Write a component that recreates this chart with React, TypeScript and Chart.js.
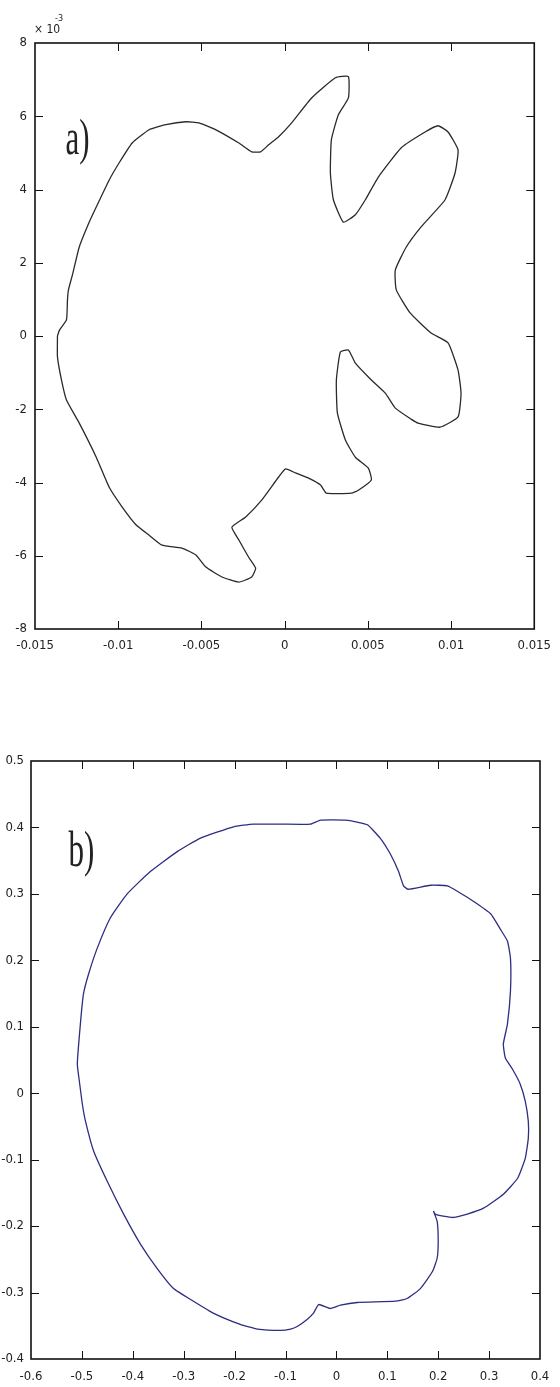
import React, { useEffect, useRef } from 'react';
import { Chart, registerables } from 'chart.js';

Chart.register(...registerables);

// ---------- Panel a) : shape, values in units of 10^-3 ----------
const aXmilli = [
  -13.65, -13.53, -13.11, -13.05, -12.99, -12.75, -12.34, -11.74, -11.32, -10.54,
  -9.94, -9.16, -8.14, -7.13, -5.93, -5.15, -4.13, -2.75, -1.98, -1.44,
  -0.96, -0.36, 0.42, 1.62, 3.05, 3.83, 3.83, 3.23, 2.81, 2.75,
  2.93, 3.53, 4.25, 4.85, 5.63, 7.01, 8.44, 9.22, 9.82, 10.42,
  10.24, 9.64, 8.2, 7.31, 6.65, 6.71, 7.54, 8.8, 9.82, 10.42,
  10.6, 10.42, 9.34, 8.02, 7.6, 6.65, 6.05, 5.21, 4.25, 3.83,
  3.35, 3.11, 3.17, 3.65, 4.25, 5.03, 5.21, 4.43, 4.01, 2.51,
  2.16, 1.44, 0.66, 0.06, -0.36, -1.38, -2.34, -3.17, -2.75, -2.16,
  -1.74, -1.98, -2.75, -3.77, -4.73, -5.33, -6.17, -7.37, -8.14, -8.92,
  -9.76, -10.54, -11.32, -12.34, -13.11, -13.41, -13.65, -13.65,
];
const aYmilli = [
  0, 0.16, 0.44, 0.98, 1.26, 1.67, 2.43, 3.11, 3.52, 4.26,
  4.73, 5.27, 5.63, 5.77, 5.85, 5.82, 5.63, 5.27, 5.03, 5.03,
  5.22, 5.44, 5.82, 6.5, 7.05, 7.08, 6.5, 6.04, 5.36, 4.45,
  3.72, 3.11, 3.31, 3.72, 4.34, 5.14, 5.57, 5.74, 5.57, 5.08,
  4.45, 3.72, 2.98, 2.43, 1.8, 1.26, 0.63, 0.08, -0.19, -0.93,
  -1.56, -2.21, -2.49, -2.38, -2.27, -1.97, -1.56, -1.2, -0.74, -0.38,
  -0.44, -1.2, -2.1, -2.84, -3.31, -3.61, -3.93, -4.21, -4.29, -4.29,
  -4.07, -3.88, -3.74, -3.63, -3.85, -4.48, -4.94, -5.22, -5.57, -6.04,
  -6.34, -6.58, -6.72, -6.58, -6.31, -5.98, -5.79, -5.71, -5.44, -5.16,
  -4.67, -4.13, -3.31, -2.38, -1.75, -1.2, -0.57, 0,
];
const aXTicks = [-0.015, -0.01, -0.005, 0, 0.005, 0.01, 0.015];
const aXTickLabels = ['-0.015', '-0.01', '-0.005', '0', '0.005', '0.01', '0.015'];
const aYTicks = [-8, -6, -4, -2, 0, 2, 4, 6, 8];
const aYTickLabels = ['-8', '-6', '-4', '-2', '0', '2', '4', '6', '8'];

// ---------- Panel b) ----------
const bX = [
  -0.505, -0.509, -0.503, -0.497, -0.487, -0.47, -0.444, -0.411, -0.365, -0.312,
  -0.267, -0.202, -0.163, -0.11, -0.051, -0.031, 0.018, 0.041, 0.061, 0.086,
  0.106, 0.122, 0.132, 0.141, 0.185, 0.218, 0.244, 0.269, 0.303, 0.322,
  0.336, 0.342, 0.342, 0.336, 0.328, 0.332, 0.346, 0.361, 0.371, 0.377,
  0.377, 0.371, 0.356, 0.328, 0.289, 0.257, 0.23, 0.21, 0.194, 0.191,
  0.198, 0.2, 0.198, 0.189, 0.165, 0.139, 0.116, 0.041, 0.008, -0.012,
  -0.035, -0.045, -0.057, -0.077, -0.09, -0.11, -0.155, -0.189, -0.242, -0.281,
  -0.32, -0.352, -0.385, -0.418, -0.45, -0.477, -0.493, -0.499, -0.505,
];
const bY = [
  0.018, 0.044, 0.104, 0.149, 0.179, 0.218, 0.264, 0.3, 0.334, 0.364,
  0.384, 0.401, 0.405, 0.405, 0.405, 0.411, 0.411, 0.408, 0.404, 0.384,
  0.36, 0.334, 0.312, 0.307, 0.313, 0.312, 0.301, 0.289, 0.27, 0.247,
  0.229, 0.203, 0.154, 0.104, 0.074, 0.053, 0.036, 0.014, -0.012, -0.042,
  -0.068, -0.098, -0.128, -0.152, -0.173, -0.182, -0.187, -0.185, -0.182, -0.178,
  -0.193, -0.223, -0.248, -0.268, -0.294, -0.309, -0.313, -0.315, -0.319, -0.324,
  -0.318, -0.331, -0.34, -0.351, -0.355, -0.357, -0.355, -0.348, -0.331, -0.313,
  -0.294, -0.264, -0.227, -0.182, -0.133, -0.087, -0.042, -0.017, 0.018,
];
const bXTicks = [-0.6, -0.5, -0.4, -0.3, -0.2, -0.1, 0, 0.1, 0.2, 0.3, 0.4];
const bXTickLabels = ['-0.6', '-0.5', '-0.4', '-0.3', '-0.2', '-0.1', '0', '0.1', '0.2', '0.3', '0.4'];
const bYTicks = [-0.4, -0.3, -0.2, -0.1, 0, 0.1, 0.2, 0.3, 0.4, 0.5];
const bYTickLabels = ['-0.4', '-0.3', '-0.2', '-0.1', '0', '0.1', '0.2', '0.3', '0.4', '0.5'];

const TICK_FONT = '"Liberation Sans Narrow", "DejaVu Sans Condensed", "Liberation Sans", sans-serif';
const LETTER_FONT = '"Liberation Serif", "DejaVu Serif", serif';

type PanelSpec = {
  xs: number[];
  ys: number[];
  xTicks: number[];
  xLabels: string[];
  yTicks: number[];
  yLabels: string[];
  color: string;
  padTop: number;
  padRight: number;
  padBottom: number;
  yWidth: number;
  xHeight: number;
  xPad: number;
  yPad: number;
  letter: string;
  letterX: number;
  letterY: number;
  exponent: boolean;
};

function framePlugin(spec: PanelSpec) {
  return {
    id: 'matlabFrame',
    afterDraw(chart: any) {
      const ctx = chart.ctx as CanvasRenderingContext2D;
      const { left, right, top, bottom } = chart.chartArea;
      const xs = chart.scales.x;
      const ys = chart.scales.y;
      const tl = 8;
      ctx.save();
      ctx.strokeStyle = '#111';
      ctx.lineWidth = 1;
      ctx.beginPath();
      spec.xTicks.forEach((v) => {
        const px = Math.round(xs.getPixelForValue(v)) + 0.5;
        if (px < left + 2 || px > right - 2) return;
        ctx.moveTo(px, bottom);
        ctx.lineTo(px, bottom - tl);
        ctx.moveTo(px, top);
        ctx.lineTo(px, top + tl);
      });
      spec.yTicks.forEach((v) => {
        const py = Math.round(ys.getPixelForValue(v)) + 0.5;
        if (py < top + 2 || py > bottom - 2) return;
        ctx.moveTo(left, py);
        ctx.lineTo(left + tl, py);
        ctx.moveTo(right, py);
        ctx.lineTo(right - tl, py);
      });
      ctx.stroke();
      ctx.lineWidth = 1.6;
      ctx.strokeRect(left, top, right - left, bottom - top);

      // panel letter
      const lx = xs.getPixelForValue(spec.letterX);
      const ly = ys.getPixelForValue(spec.letterY);
      ctx.translate(lx, ly);
      ctx.scale(0.62, 1);
      ctx.fillStyle = '#222';
      ctx.font = `50px ${LETTER_FONT}`;
      ctx.textBaseline = 'alphabetic';
      ctx.textAlign = 'left';
      ctx.fillText(spec.letter, 0, 0);
      ctx.restore();

      if (spec.exponent) {
        ctx.save();
        ctx.fillStyle = '#222';
        ctx.textAlign = 'left';
        ctx.textBaseline = 'alphabetic';
        ctx.font = `12px ${TICK_FONT}`;
        ctx.fillText('\u00d7 10', left - 1, top - 10);
        ctx.font = `9px ${TICK_FONT}`;
        ctx.fillText('-3', left + 20, top - 22);
        ctx.restore();
      }
    },
  };
}

function makeConfig(spec: PanelSpec): any {
  const n = spec.xs.length;
  const points = [] as { x: number; y: number }[];
  for (let i = 0; i < n; i++) points.push({ x: spec.xs[i], y: spec.ys[i] });
  const tickStyle = {
    autoSkip: false,
    maxRotation: 0,
    minRotation: 0,
    color: '#222',
    font: { family: TICK_FONT, size: 13 },
  };
  return {
    type: 'scatter',
    data: {
      datasets: [
        {
          data: points,
          showLine: true,
          borderColor: spec.color,
          borderWidth: 1.3,
          pointRadius: 0,
          pointHoverRadius: 0,
          tension: 0.15,
          fill: false,
        },
      ],
    },
    options: {
      responsive: false,
      animation: false,
      devicePixelRatio: 1,
      events: [],
      layout: { padding: { left: 0, top: spec.padTop, right: spec.padRight, bottom: spec.padBottom } },
      plugins: { legend: { display: false }, tooltip: { enabled: false } },
      scales: {
        x: {
          type: 'linear',
          min: spec.xTicks[0],
          max: spec.xTicks[spec.xTicks.length - 1],
          grid: { display: false, drawTicks: false },
          border: { display: false },
          afterBuildTicks: (s: any) => {
            s.ticks = spec.xTicks.map((v) => ({ value: v }));
          },
          afterFit: (s: any) => {
            s.height = spec.xHeight;
          },
          ticks: { ...tickStyle, padding: spec.xPad, callback: (_v: any, i: number) => spec.xLabels[i] },
        },
        y: {
          type: 'linear',
          min: spec.yTicks[0],
          max: spec.yTicks[spec.yTicks.length - 1],
          grid: { display: false, drawTicks: false },
          border: { display: false },
          afterBuildTicks: (s: any) => {
            s.ticks = spec.yTicks.map((v) => ({ value: v }));
          },
          afterFit: (s: any) => {
            s.width = spec.yWidth;
          },
          ticks: { ...tickStyle, padding: spec.yPad, callback: (_v: any, i: number) => spec.yLabels[i] },
        },
      },
    },
    plugins: [framePlugin(spec)],
  };
}

function Panel({ top, height, spec }: { top: number; height: number; spec: PanelSpec }) {
  const ref = useRef<HTMLCanvasElement | null>(null);
  useEffect(() => {
    if (!ref.current) return;
    const chart = new Chart(ref.current, makeConfig(spec));
    return () => chart.destroy();
  }, []);
  return (
    <canvas
      ref={ref}
      width={560}
      height={height}
      style={{ position: 'absolute', left: 0, top, width: 560, height, display: 'block' }}
    />
  );
}

const specA: PanelSpec = {
  xs: aXmilli.map((v) => v / 1000),
  ys: aYmilli,
  xTicks: aXTicks,
  xLabels: aXTickLabels,
  yTicks: aYTicks,
  yLabels: aYTickLabels,
  color: '#2a2a2a',
  padTop: 43,
  padRight: 24,
  padBottom: 41,
  yWidth: 35,
  xHeight: 30,
  xPad: 9,
  yPad: 8,
  letter: 'a)',
  letterX: -0.01317,
  letterY: 4.97,
  exponent: true,
};

const specB: PanelSpec = {
  xs: bX,
  ys: bY,
  xTicks: bXTicks,
  xLabels: bXTickLabels,
  yTicks: bYTicks,
  yLabels: bYTickLabels,
  color: '#2d2d82',
  padTop: 61,
  padRight: 20,
  padBottom: 0,
  yWidth: 31,
  xHeight: 28,
  xPad: 10,
  yPad: 7,
  letter: 'b)',
  letterX: -0.5265,
  letterY: 0.342,
  exponent: false,
};

export default function App() {
  return (
    <div style={{ position: 'absolute', left: 0, top: 0, width: 560, height: 1387, background: '#fff', overflow: 'hidden' }}>
      <Panel top={0} height={700} spec={specA} />
      <Panel top={700} height={687} spec={specB} />
    </div>
  );
}
